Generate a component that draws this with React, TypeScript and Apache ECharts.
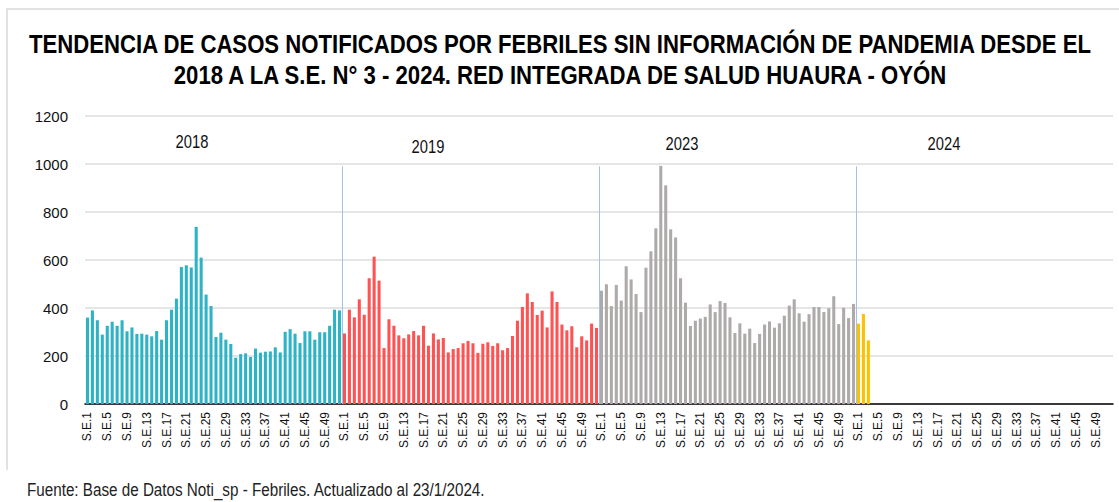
import React, { useEffect, useRef } from "react";
import * as echarts from "echarts";

const weeks: number[] = Array.from({ length: 52 }, (_, i) => i + 1);
const years: string[] = ["2018", "2019", "2023", "2024"];

const cases2018: number[] = [
  360, 390, 349, 289, 326, 343, 326, 349, 303, 319, 292, 293, 289, 282, 304, 268,
  349, 393, 439, 571, 578, 569, 738, 610, 456, 408, 279, 297, 268, 250, 193, 208,
  211, 196, 231, 214, 218, 219, 236, 215, 301, 312, 293, 254, 303, 303, 268, 299,
  299, 326, 393, 390,
];
const cases2019: number[] = [
  294, 393, 361, 436, 372, 524, 614, 514, 233, 353, 326, 286, 274, 290, 304, 286,
  326, 243, 294, 269, 275, 215, 229, 233, 253, 263, 253, 213, 251, 257, 242, 253,
  224, 233, 283, 347, 404, 461, 425, 371, 389, 319, 469, 425, 331, 307, 324, 236,
  282, 265, 335, 317,
];
const cases2023: number[] = [
  472, 499, 408, 496, 431, 574, 519, 458, 383, 568, 636, 732, 992, 911, 728, 694,
  524, 422, 325, 347, 356, 363, 415, 383, 429, 421, 361, 296, 336, 293, 314, 254,
  292, 331, 344, 318, 336, 368, 410, 436, 378, 343, 374, 404, 404, 383, 399, 449,
  333, 401, 358, 417,
];
const cases2024: number[] = [335, 375, 265];

const yTicks: number[] = [0, 200, 400, 600, 800, 1000, 1200];
const separatorWeeks: number[] = [52, 104, 156];
const separatorTop = 990;

const titleLines: string[] = [
  "TENDENCIA DE CASOS NOTIFICADOS POR FEBRILES SIN INFORMACIÓN DE PANDEMIA DESDE EL",
  "2018 A LA S.E. N° 3 - 2024. RED INTEGRADA DE SALUD HUAURA - OYÓN",
];
const footer = "Fuente: Base de Datos Noti_sp - Febriles. Actualizado al 23/1/2024.";

const colors = ["#2DB3C6", "#FF5252", "#AEAAAA", "#FFC000"];
const FONT = "'Liberation Sans', Arial, sans-serif";

export default function App() {
  const ref = useRef<HTMLDivElement>(null);
  useEffect(() => {
    if (!ref.current) return;
    const chart = echarts.init(ref.current, undefined, { renderer: "svg" });
    const categories: string[] = [];
    years.forEach(() => weeks.forEach((w) => categories.push(`S.E.${w}`)));
    const all = [cases2018, cases2019, cases2023, cases2024];
    const seriesData = all.map((vals, yi) =>
      categories.map((_, idx) => {
        const yIdx = Math.floor(idx / 52);
        const w = idx % 52;
        return yIdx === yi && w < vals.length ? vals[w] : null;
      })
    );
    const narrowText = (
      text: string,
      x: number,
      y: number,
      size: number,
      align: string,
      scale: number,
      bold = false,
      fill = "#111"
    ) => ({
      type: "text",
      x,
      y,
      scaleX: scale,
      style: {
        text,
        fontSize: size,
        fontFamily: FONT,
        fontWeight: bold ? "bold" : "normal",
        fill,
        textAlign: align,
        textVerticalAlign: "middle",
      },
    });
    chart.setOption({
      animation: false,
      textStyle: { fontFamily: FONT },
      grid: { left: 85, right: 6, top: 116, bottom: 98, containLabel: false },
      xAxis: [
        {
          type: "category",
          data: categories,
          axisLine: { lineStyle: { color: "#000", width: 1.5 } },
          axisTick: { show: false },
          axisLabel: {
            interval: 3,
            rotate: 90,
            fontSize: 12,
            color: "#111",
            margin: 8,
            fontFamily: FONT,
          },
        },
        { type: "value", min: 0, max: 208, show: false },
      ],
      yAxis: {
        type: "value",
        min: yTicks[0],
        max: yTicks[yTicks.length - 1],
        interval: 200,
        axisLine: { show: false },
        axisTick: { show: false },
        splitLine: { lineStyle: { color: "#DCDCDC", width: 1.5 } },
        axisLabel: {
          fontSize: 15,
          color: "#111",
          margin: 17,
          fontFamily: FONT,
          formatter: (v: number) => String(v),
        },
      },
      series: [
        ...seriesData.map((d, i) => ({
          type: "bar",
          name: years[i],
          stack: "all",
          data: d,
          barCategoryGap: "38%",
          itemStyle: { color: colors[i] },
        })),
        {
          type: "line",
          xAxisIndex: 1,
          data: [],
          silent: true,
          markLine: {
            symbol: "none",
            silent: true,
            label: { show: false },
            lineStyle: { color: "#9DC3E6", width: 1, type: "solid" },
            data: separatorWeeks.map((w) => [
              { coord: [w, separatorTop] },
              { coord: [w, 0] },
            ]),
          },
        },
      ],
      graphic: [
        {
          type: "polyline",
          shape: { points: [[7, 470], [7, 9], [1119, 9]] },
          style: { stroke: "#D9D9D9", lineWidth: 1.5, fill: null },
        },
        narrowText(titleLines[0], 560, 44, 26, "center", 0.852, true, "#000"),
        narrowText(titleLines[1], 560, 75, 26, "center", 0.852, true, "#000"),
        narrowText("2018", 192, 141, 18, "center", 0.82),
        narrowText("2019", 428, 146, 18, "center", 0.82),
        narrowText("2023", 682, 143, 18, "center", 0.82),
        narrowText("2024", 944, 143, 18, "center", 0.82),
        narrowText(footer, 27, 490, 17.5, "left", 0.87, false, "#222"),
      ],
    });
    return () => chart.dispose();
  }, []);
  return (
    <div
      ref={ref}
      style={{ position: "absolute", left: 0, top: 0, width: 1119, height: 502, background: "#fff" }}
    />
  );
}
